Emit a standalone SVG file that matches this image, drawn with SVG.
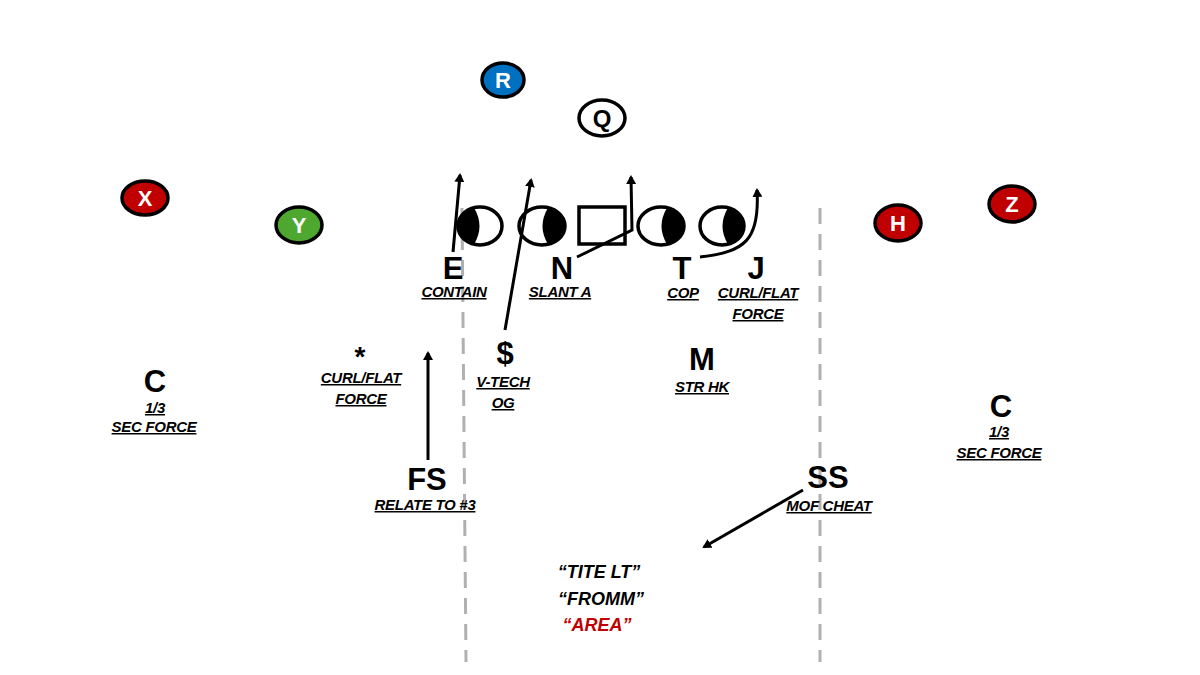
<svg xmlns="http://www.w3.org/2000/svg" width="1200" height="675" viewBox="0 0 1200 675">
<style>
.bg{fill:#ffffff}
.pl{stroke:#000;stroke-width:3.5}
.red{fill:#c00000}
.ptxt{font-family:"Liberation Sans",Arial,sans-serif;font-weight:bold;font-size:22px;fill:#fff;text-anchor:middle}
.ol{fill:#fff;stroke:#000;stroke-width:3.5}
.cres{fill:#000}
.big{font-family:"Liberation Sans",Arial,sans-serif;font-weight:bold;font-size:31px;fill:#000;text-anchor:middle}
.lab{font-family:"Liberation Sans",Arial,sans-serif;font-weight:bold;font-style:italic;font-size:15px;fill:#000;text-anchor:middle;text-decoration:underline;letter-spacing:-0.3px}
.call{font-family:"Liberation Sans",Arial,sans-serif;font-weight:bold;font-style:italic;font-size:18px;fill:#000;text-anchor:middle}
.route{fill:none;stroke:#000;stroke-width:3;marker-end:url(#ah)}
.dash{stroke:#b0b0b0;stroke-width:3;stroke-dasharray:16 10;fill:none}
</style>
<defs>
<marker id="ah" markerWidth="10" markerHeight="10" refX="7" refY="5" orient="auto" markerUnits="userSpaceOnUse">
<path d="M0,0 L9,5 L0,10 Z" fill="#000"/>
</marker>
</defs>
<rect class="bg" x="0" y="0" width="1200" height="675"/>

<g id="dashes">
<line class="dash" x1="462" y1="208" x2="466" y2="662"/>
<line class="dash" x1="820" y1="208" x2="820" y2="662"/>
</g>

<g id="R"><ellipse class="pl" cx="503" cy="80" rx="21" ry="17" fill="#0070c0"/><text class="ptxt" x="503" y="88">R</text></g>
<g id="Q"><ellipse class="ol" cx="602" cy="118" rx="23" ry="18"/><text class="big" x="602" y="127" style="font-size:24px">Q</text></g>
<g id="X"><ellipse class="pl red" cx="145" cy="198" rx="23" ry="17"/><text class="ptxt" x="145" y="206">X</text></g>
<g id="Y"><ellipse class="pl" cx="299" cy="225" rx="23" ry="18" fill="#4ea72e"/><text class="ptxt" x="299" y="233">Y</text></g>
<g id="H"><ellipse class="pl red" cx="898" cy="223" rx="23" ry="18"/><text class="ptxt" x="898" y="231">H</text></g>
<g id="Z"><ellipse class="pl red" cx="1012" cy="204" rx="23" ry="18"/><text class="ptxt" x="1012" y="212">Z</text></g>

<g id="OL1"><ellipse class="ol" cx="480" cy="226" rx="22" ry="19"/><path class="cres" d="M474,207.7 A22,19 0 0 0 474,244.3 Q485,226 474,207.7 Z"/></g>
<g id="OL2"><ellipse class="ol" cx="542" cy="226" rx="23" ry="19"/><path class="cres" d="M548,207.7 A23,19 0 0 1 548,244.3 Q537,226 548,207.7 Z"/></g>
<g id="C-ol"><rect x="579" y="207" width="46" height="37" fill="#fff" stroke="#000" stroke-width="3.5"/></g>
<g id="OL3"><ellipse class="ol" cx="661" cy="226" rx="23" ry="19"/><path class="cres" d="M667,207.7 A23,19 0 0 1 667,244.3 Q656,226 667,207.7 Z"/></g>
<g id="OL4"><ellipse class="ol" cx="722" cy="226" rx="22" ry="19"/><path class="cres" d="M728,207.7 A22,19 0 0 1 728,244.3 Q717,226 728,207.7 Z"/></g>

<g id="connectors">
<path class="route" d="M453,252 L460,175"/>
<path class="route" d="M505,330 L531,180"/>
<path class="route" d="M577,257 L632,230 L631,177"/>
<path class="route" d="M700,257 C745,252 760,240 757,190"/>
<path class="route" d="M428,460 L428,353"/>
<path class="route" d="M803,490 L704,547"/>
</g>

<g id="E"><text class="big" x="453" y="279">E</text><text class="lab" x="454" y="297">CONTAIN</text></g>
<g id="N"><text class="big" x="562" y="279">N</text><text class="lab" x="560" y="297">SLANT A</text></g>
<g id="T"><text class="big" x="682" y="279">T</text><text class="lab" x="683" y="298">COP</text></g>
<g id="J"><text class="big" x="756" y="279">J</text><text class="lab" x="758" y="298">CURL/FLAT</text><text class="lab" x="758" y="319">FORCE</text></g>
<g id="S"><text class="big" x="505" y="364">$</text><text class="lab" x="503" y="387">V-TECH</text><text class="lab" x="503" y="408">OG</text></g>
<g id="M"><text class="big" x="702" y="370">M</text><text class="lab" x="702" y="392">STR HK</text></g>
<g id="star"><text class="big" x="360" y="366" style="font-size:28px">*</text><text class="lab" x="361" y="383">CURL/FLAT</text><text class="lab" x="361" y="404">FORCE</text></g>
<g id="FS"><text class="big" x="427" y="490">FS</text><text class="lab" x="425" y="510">RELATE TO #3</text></g>
<g id="SS"><text class="big" x="828" y="488">SS</text><text class="lab" x="829" y="511">MOF CHEAT</text></g>
<g id="CL"><text class="big" x="155" y="392">C</text><text class="lab" x="155" y="413">1/3</text><text class="lab" x="154" y="432">SEC FORCE</text></g>
<g id="CR"><text class="big" x="1001" y="417">C</text><text class="lab" x="999" y="437">1/3</text><text class="lab" x="999" y="458">SEC FORCE</text></g>

<g id="call">
<text class="call" x="599" y="578">“TITE LT”</text>
<text class="call" x="601" y="605">“FROMM”</text>
<text class="call" x="597" y="631" style="fill:#c00000">“AREA”</text>
</g>
</svg>
